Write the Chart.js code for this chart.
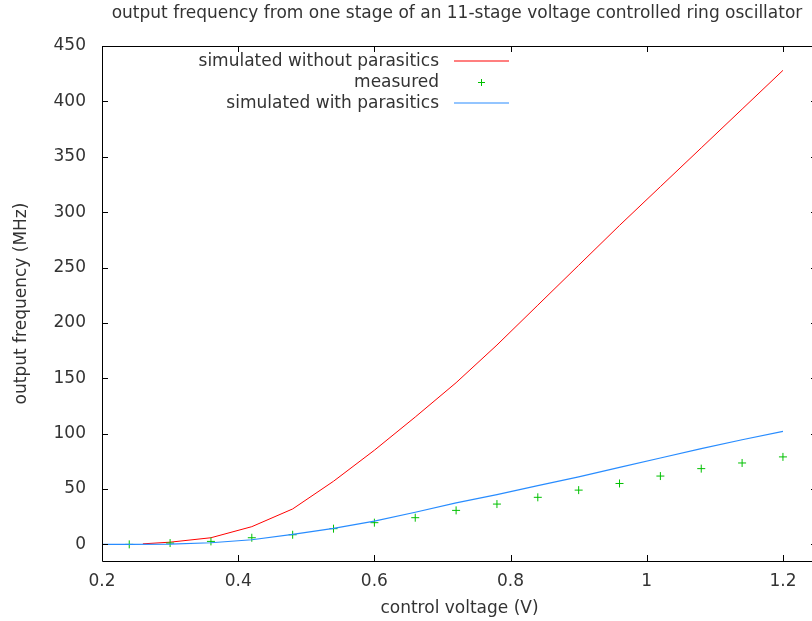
<!DOCTYPE html>
<html>
<head>
<meta charset="utf-8">
<script src="https://cdn.jsdelivr.net/npm/chart.js@4/dist/chart.umd.min.js"></script>
<style>
  html, body { margin: 0; padding: 0; background: #fff; overflow: hidden; }
  #wrap { position: absolute; left: 0; top: 0; width: 830px; height: 621px; }
</style>
</head>
<body>
<div id="wrap"><canvas id="chart" width="830" height="621"></canvas></div>
<script>
// control voltage samples (V)
const simNoParX = [0.26, 0.30, 0.36, 0.42, 0.48, 0.54, 0.60, 0.66, 0.72, 0.78, 0.84, 0.90, 0.96, 1.02, 1.08, 1.14, 1.20];
const simNoParY = [0.5, 2, 6, 16, 32, 57, 85, 115, 146, 180, 216, 252, 288, 323, 358, 393, 428];

const measuredX = [0.24, 0.30, 0.36, 0.42, 0.48, 0.54, 0.60, 0.66, 0.72, 0.78, 0.84, 0.90, 0.96, 1.02, 1.08, 1.14, 1.20];
const measuredY = [0, 1.2, 2.7, 6, 8.7, 14.2, 19.6, 24.1, 30.7, 36.4, 42.5, 49, 55, 61.7, 68.4, 73.5, 79];

const simParX = [0.20, 0.24, 0.30, 0.36, 0.42, 0.48, 0.54, 0.60, 0.66, 0.72, 0.78, 0.84, 0.90, 0.96, 1.02, 1.08, 1.14, 1.20];
const simParY = [0, 0, 0.3, 1.5, 4.2, 9, 14.5, 21, 29, 37.5, 45, 53, 61, 69.5, 78, 86.5, 94.5, 102];

const xTicks = [0.2, 0.4, 0.6, 0.8, 1, 1.2];
const xTickLabels = ['0.2', '0.4', '0.6', '0.8', '1', '1.2'];
const yTicks = [0, 50, 100, 150, 200, 250, 300, 350, 400, 450];
const yTickLabels = ['0', '50', '100', '150', '200', '250', '300', '350', '400', '450'];

const titleText = 'output frequency from one stage of an 11-stage voltage controlled ring oscillator';
const seriesNames = ['simulated without parasitics', 'measured', 'simulated with parasitics'];

const RED = 'rgb(255, 0, 0)';
const GREEN = 'rgb(0, 192, 0)';
const BLUE = 'rgb(40, 140, 255)';
const TEXT = '#333';
const FONT = 'DejaVu Sans';
const FSIZE = 17;

function pts(xs, ys) {
    return xs.map((x, i) => ({ x: x, y: ys[i] }));
}

// frame with inward ticks on all four sides, like gnuplot
const framePlugin = {
    id: 'frame',
    afterDraw(chart) {
        const ctx = chart.ctx;
        const a = chart.chartArea;
        const xs = chart.scales.x, ys = chart.scales.y;
        const tl = 6;
        ctx.save();
        ctx.strokeStyle = '#000';
        ctx.lineWidth = 1;
        ctx.beginPath();
        ctx.rect(Math.round(a.left) + 0.5, Math.round(a.top) + 0.5, Math.round(a.right - a.left), Math.round(a.bottom - a.top));
        for (const v of xTicks) {
            const px = Math.round(xs.getPixelForValue(v)) + 0.5;
            ctx.moveTo(px, a.bottom);
            ctx.lineTo(px, a.bottom - tl);
            ctx.moveTo(px, a.top);
            ctx.lineTo(px, a.top + tl);
        }
        for (const v of yTicks) {
            const py = Math.round(ys.getPixelForValue(v)) + 0.5;
            ctx.moveTo(a.left, py);
            ctx.lineTo(a.left + tl, py);
            ctx.moveTo(a.right, py);
            ctx.lineTo(a.right - tl, py);
        }
        ctx.stroke();
        ctx.restore();
    }
};

// title and gnuplot-style key (text right aligned, sample on the right)
const keyPlugin = {
    id: 'key',
    afterDraw(chart) {
        const ctx = chart.ctx;
        ctx.save();
        ctx.fillStyle = TEXT;
        ctx.font = FSIZE + 'px "' + FONT + '"';
        ctx.textAlign = 'center';
        ctx.textBaseline = 'middle';
        ctx.fillText(titleText, 457, 14);

        const rows = [62, 83, 104];
        const textRight = 439;
        const sampleL = 454, sampleR = 509;
        ctx.textAlign = 'right';
        seriesNames.forEach((name, i) => {
            ctx.fillText(name, textRight, rows[i]);
        });
        ctx.lineWidth = 1.2;
        ctx.strokeStyle = RED;
        ctx.beginPath();
        ctx.moveTo(sampleL, rows[0] - 1);
        ctx.lineTo(sampleR, rows[0] - 1);
        ctx.stroke();
        ctx.strokeStyle = BLUE;
        ctx.beginPath();
        ctx.moveTo(sampleL, rows[2] - 1);
        ctx.lineTo(sampleR, rows[2] - 1);
        ctx.stroke();
        ctx.strokeStyle = GREEN;
        ctx.lineWidth = 1;
        const cx = 481.5, cy = rows[1] - 0.5;
        ctx.beginPath();
        ctx.moveTo(cx - 3.5, cy);
        ctx.lineTo(cx + 3.5, cy);
        ctx.moveTo(cx, cy - 3.5);
        ctx.lineTo(cx, cy + 3.5);
        ctx.stroke();
        ctx.restore();
    }
};

const ctx = document.getElementById('chart').getContext('2d');
const chart = new Chart(ctx, {
    type: 'scatter',
    data: {
        datasets: [
            {
                label: seriesNames[0],
                data: pts(simNoParX, simNoParY),
                showLine: true,
                borderColor: RED,
                borderWidth: 1,
                pointRadius: 0,
                tension: 0,
                order: 3
            },
            {
                label: seriesNames[1],
                data: pts(measuredX, measuredY),
                showLine: false,
                borderColor: GREEN,
                backgroundColor: GREEN,
                pointStyle: 'cross',
                pointRadius: 4,
                pointBorderWidth: 1,
                order: 2
            },
            {
                label: seriesNames[2],
                data: pts(simParX, simParY),
                showLine: true,
                borderColor: BLUE,
                borderWidth: 1.2,
                pointRadius: 0,
                tension: 0,
                order: 1
            }
        ]
    },
    options: {
        responsive: false,
        animation: false,
        layout: { padding: { left: 9, top: 46, right: 13, bottom: 0 } },
        plugins: {
            legend: { display: false },
            tooltip: { enabled: false },
            title: { display: false }
        },
        scales: {
            x: {
                type: 'linear',
                min: 0.2,
                max: 1.25,
                grid: { display: false, drawTicks: false },
                border: { display: false },
                afterBuildTicks: (scale) => { scale.ticks = xTicks.map(v => ({ value: v })); },
                afterFit: (scale) => { scale.height = 60; },
                ticks: {
                    padding: 10,
                    color: TEXT,
                    font: { family: FONT, size: FSIZE },
                    maxRotation: 0,
                    autoSkip: false,
                    callback: (v) => xTickLabels[xTicks.indexOf(v)] ?? ''
                },
                title: {
                    display: true,
                    text: 'control voltage (V)',
                    color: TEXT,
                    font: { family: FONT, size: FSIZE },
                    padding: { top: 0, bottom: 2 }
                }
            },
            y: {
                type: 'linear',
                min: -15,
                max: 450,
                grid: { display: false, drawTicks: false },
                border: { display: false },
                afterBuildTicks: (scale) => { scale.ticks = yTicks.map(v => ({ value: v })); },
                afterFit: (scale) => { scale.width = 93; },
                ticks: {
                    padding: 16,
                    color: TEXT,
                    font: { family: FONT, size: FSIZE },
                    autoSkip: false,
                    callback: (v) => yTickLabels[yTicks.indexOf(v)] ?? ''
                },
                title: {
                    display: true,
                    text: 'output frequency (MHz)',
                    color: TEXT,
                    font: { family: FONT, size: FSIZE },
                    padding: { top: 2, bottom: 0 }
                }
            }
        }
    },
    plugins: [framePlugin, keyPlugin]
});
</script>
</body>
</html>
